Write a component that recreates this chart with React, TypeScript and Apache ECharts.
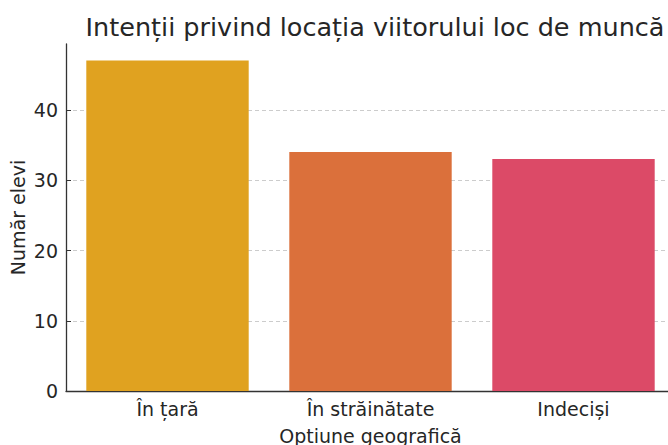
import React, { useEffect, useRef } from "react";
import * as echarts from "echarts";

const categories = ["În țară", "În străinătate", "Indeciși"];
const values = [47, 34, 33];
const barColors = ["#E0A220", "#DB703B", "#DC4A67"];
const yTicks = [0, 10, 20, 30, 40];
const titleText = "Intenții privind locația viitorului loc de muncă";
const xName = "Opțiune geografică";
const yName = "Număr elevi";

export default function App() {
  const ref = useRef<HTMLDivElement>(null);
  useEffect(() => {
    if (!ref.current) return;
    const chart = echarts.init(ref.current, null, { renderer: "svg" });
    const font = "DejaVu Sans";
    const yMaxAll = 49.35;
    const gridLeft = 66;
    const gridBottom = 54;
    const gridRight = 0;
    chart.setOption({
      animation: false,
      backgroundColor: "#ffffff",
      textStyle: { fontFamily: font },
      title: {
        text: titleText,
        left: 370,
        textAlign: "center",
        top: 9,
        textStyle: { fontFamily: font, fontSize: 25.5, fontWeight: "normal", color: "#262626" },
      },
      grid: [
        { left: gridLeft, right: gridRight, top: 44, bottom: gridBottom, outerBoundsMode: "none", containLabel: false },
        { left: gridLeft, right: gridRight, top: 110, bottom: gridBottom, outerBoundsMode: "none", containLabel: false },
      ],
      xAxis: [
        {
          type: "category",
          gridIndex: 0,
          data: categories,
          axisLine: { lineStyle: { color: "#333333", width: 1.3 } },
          axisTick: { show: true, inside: true, length: 5, alignWithLabel: true, lineStyle: { color: "#333333" } },
          axisLabel: { fontFamily: font, fontSize: 19, color: "#262626", margin: 8 },
          name: xName,
          nameLocation: "middle",
          nameGap: 35,
          nameTextStyle: { fontFamily: font, fontSize: 19, color: "#262626" },
        },
        {
          type: "category",
          gridIndex: 1,
          data: categories,
          show: false,
        },
      ],
      yAxis: [
        {
          type: "value",
          gridIndex: 0,
          min: 0,
          max: yMaxAll,
          axisLine: { show: true, lineStyle: { color: "#333333", width: 1.3 } },
          axisTick: { show: false },
          axisLabel: { show: false },
          splitLine: { show: false },
          name: yName,
          nameLocation: "middle",
          nameGap: 39,
          nameTextStyle: { fontFamily: font, fontSize: 19, color: "#262626" },
        },
        {
          type: "value",
          gridIndex: 1,
          min: yTicks[0],
          max: yTicks[yTicks.length - 1],
          interval: 10,
          axisLine: { show: false },
          axisTick: { show: true, inside: true, length: 5, lineStyle: { color: "#333333" } },
          axisLabel: { fontFamily: font, fontSize: 19, color: "#262626", margin: 8 },
          splitLine: { show: true, lineStyle: { color: "#cccccc", type: [4, 3], width: 1 } },
        },
      ],
      series: [
        {
          type: "bar",
          xAxisIndex: 0,
          yAxisIndex: 0,
          z: 3,
          barCategoryGap: "20%",
          data: values.map((v, i) => ({ value: v, itemStyle: { color: barColors[i] } })),
        },
      ],
    });
    return () => chart.dispose();
  }, []);
  return (
    <div style={{ position: "fixed", left: 0, top: 0, width: 668, height: 445, overflow: "hidden", background: "#fff" }}>
      <div ref={ref} style={{ width: 675, height: 445 }} />
    </div>
  );
}
